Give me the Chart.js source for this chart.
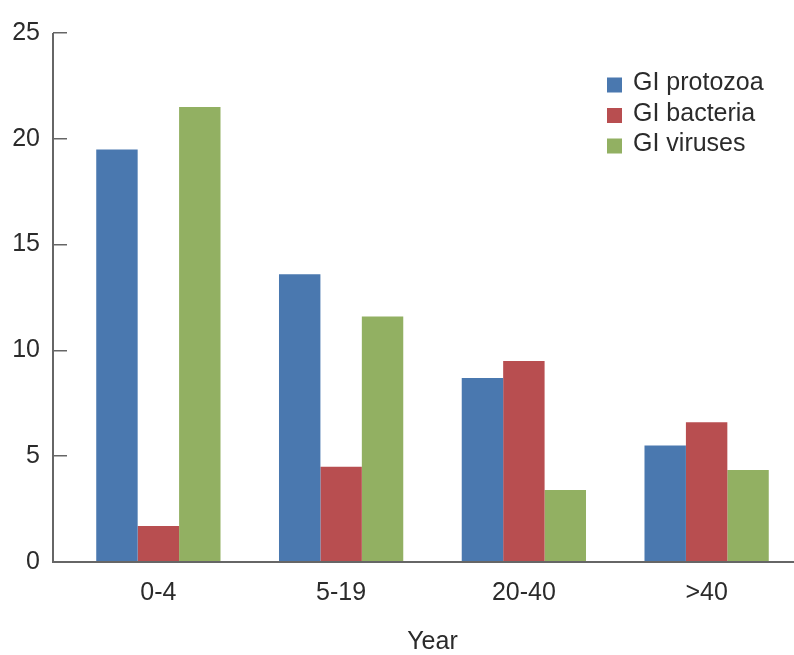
<!DOCTYPE html>
<html>
<head>
<meta charset="utf-8">
<script src="https://cdn.jsdelivr.net/npm/chart.js@4"></script>
<style>
  html, body { margin: 0; padding: 0; background: #fff; overflow: hidden; }
  #wrap { width: 800px; height: 655px; }
</style>
</head>
<body>
<div id="wrap"><canvas id="c" width="800" height="655"></canvas></div>
<script>
const categories = ['0-4', '5-19', '20-40', '>40'];
const protozoa = [19.5, 13.6, 8.7, 5.5];
const bacteria = [1.7, 4.5, 9.5, 6.6];
const viruses = [21.5, 11.6, 3.4, 4.35];
const seriesNames = ['GI protozoa', 'GI bacteria', 'GI viruses'];
const yTicks = [0, 5, 10, 15, 20, 25];
const xTitle = 'Year';

const colors = ['#4a78af', '#b84e50', '#92b062'];
const FONT = "'Liberation Sans', Arial, sans-serif";
const TEXT = '#2b2b2b';
const AXIS = '#666666';

const axisLines = {
  id: 'axisLines',
  afterDatasetsDraw(chart) {
    const ctx = chart.ctx;
    const y = chart.scales.y;
    const x0 = chart.chartArea.left - 14;
    ctx.save();
    ctx.strokeStyle = AXIS;
    ctx.lineWidth = 2;
    ctx.beginPath();
    ctx.moveTo(x0, y.getPixelForValue(25));
    ctx.lineTo(x0, y.getPixelForValue(0));
    ctx.lineTo(794, y.getPixelForValue(0));
    ctx.stroke();
    ctx.restore();
  }
};

const customLegend = {
  id: 'customLegend',
  afterDraw(chart) {
    const ctx = chart.ctx;
    ctx.save();
    ctx.font = '25px ' + FONT;
    ctx.textBaseline = 'alphabetic';
    ctx.textAlign = 'left';
    chart.data.datasets.forEach((ds, i) => {
      const cy = 85 + i * 30.5;
      ctx.fillStyle = ds.backgroundColor;
      ctx.fillRect(607, cy - 7.5, 15, 15);
      ctx.fillStyle = TEXT;
      ctx.fillText(ds.label, 633, cy + 5);
    });
    ctx.restore();
  }
};

new Chart(document.getElementById('c'), {
  type: 'bar',
  data: {
    labels: categories,
    datasets: [
      { label: seriesNames[0], data: protozoa, backgroundColor: colors[0] },
      { label: seriesNames[1], data: bacteria, backgroundColor: colors[1] },
      { label: seriesNames[2], data: viruses, backgroundColor: colors[2] }
    ]
  },
  options: {
    responsive: false,
    animation: false,
    layout: { padding: { top: 33, right: 2, left: 0, bottom: 0 } },
    datasets: { bar: { barPercentage: 1, categoryPercentage: 0.68, borderWidth: 0 } },
    plugins: { legend: { display: false }, tooltip: { enabled: false } },
    scales: {
      x: {
        grid: { display: false, drawTicks: false },
        border: { display: false },
        ticks: { color: TEXT, font: { family: FONT, size: 25 }, padding: 16 },
        title: { display: true, text: xTitle, color: TEXT, font: { family: FONT, size: 25, lineHeight: 1 }, padding: { top: 0, bottom: 0 } },
        afterFit(s) { s.height = 93; }
      },
      y: {
        min: 0, max: 25,
        afterBuildTicks(s) { s.ticks = yTicks.map(v => ({ value: v })); },
        grid: { drawOnChartArea: false, drawTicks: true, tickLength: 14, color: AXIS, lineWidth: 1.5 },
        border: { display: false },
        ticks: { color: TEXT, font: { family: FONT, size: 25 }, padding: 13 },
        afterFit(s) { s.width = 67; }
      }
    }
  },
  plugins: [axisLines, customLegend]
});
</script>
</body>
</html>
